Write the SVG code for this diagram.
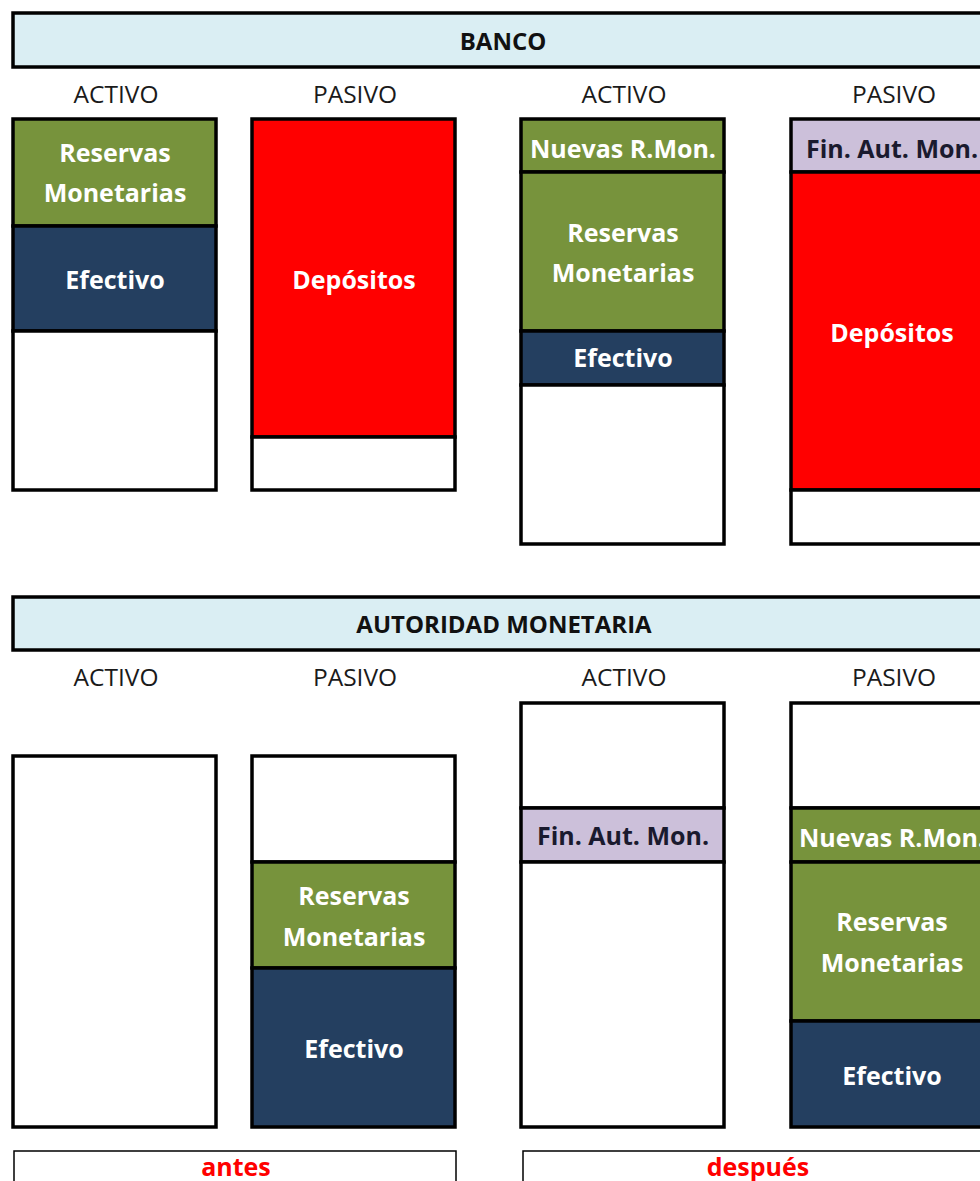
<svg xmlns="http://www.w3.org/2000/svg" width="980" height="1181" viewBox="0 0 980 1181">
<style>
text{font-family:"Open Sans","Liberation Sans",sans-serif;text-anchor:middle}
.hdr{fill:#DAEEF3;stroke:#000;stroke-width:3.5}
.ht{font-size:24px;font-weight:bold;fill:#111}
.col{font-size:24.5px;fill:#1a1a1a}
.g{fill:#77933C;stroke:#000;stroke-width:3.5}
.n{fill:#243F60;stroke:#000;stroke-width:3.5}
.r{fill:#FF0000;stroke:#000;stroke-width:3.5}
.l{fill:#CCC0DA;stroke:#000;stroke-width:3.5}
.w{fill:#FFFFFF;stroke:#000;stroke-width:3.5}
.wt{font-size:25px;font-weight:bold;fill:#FFFFFF}
.dt{font-size:25px;font-weight:bold;fill:#1a1a2e}
.lab{fill:#fff;stroke:#000;stroke-width:1.5}
.rt{font-size:25px;font-weight:bold;fill:#FF0000}
</style>
<rect width="980" height="1181" fill="#fff"/>

<g id="banco-header">
<rect class="hdr" x="13" y="13" width="990" height="54"/>
<text class="ht" x="503" y="50">BANCO</text>
</g>
<g id="banco-labels">
<text class="col" x="116" y="103">ACTIVO</text>
<text class="col" x="355" y="103">PASIVO</text>
<text class="col" x="624" y="103">ACTIVO</text>
<text class="col" x="894" y="103">PASIVO</text>
</g>

<g id="banco-activo-antes">
<rect class="g" x="13" y="119" width="203" height="107"/>
<rect class="n" x="13" y="226" width="203" height="105"/>
<rect class="w" x="13" y="331" width="203" height="159"/>
<text class="wt" x="115" y="162">Reservas</text>
<text class="wt" x="115" y="202">Monetarias</text>
<text class="wt" x="115" y="289">Efectivo</text>
</g>
<g id="banco-pasivo-antes">
<rect class="r" x="252" y="119" width="203" height="318"/>
<rect class="w" x="252" y="437" width="203" height="53"/>
<text class="wt" x="354" y="289">Depósitos</text>
</g>
<g id="banco-activo-despues">
<rect class="g" x="521" y="119" width="203" height="53"/>
<rect class="g" x="521" y="172" width="203" height="159"/>
<rect class="n" x="521" y="331" width="203" height="54"/>
<rect class="w" x="521" y="385" width="203" height="159"/>
<text class="wt" x="623" y="158">Nuevas R.Mon.</text>
<text class="wt" x="623" y="242">Reservas</text>
<text class="wt" x="623" y="282">Monetarias</text>
<text class="wt" x="623" y="367">Efectivo</text>
</g>
<g id="banco-pasivo-despues">
<rect class="l" x="791" y="119" width="203" height="53"/>
<rect class="r" x="791" y="172" width="203" height="318"/>
<rect class="w" x="791" y="490" width="203" height="54"/>
<text class="dt" x="892" y="158">Fin. Aut. Mon.</text>
<text class="wt" x="892" y="342">Depósitos</text>
</g>

<g id="am-header">
<rect class="hdr" x="13" y="597" width="990" height="53"/>
<text class="ht" x="504" y="633">AUTORIDAD MONETARIA</text>
</g>
<g id="am-labels">
<text class="col" x="116" y="686">ACTIVO</text>
<text class="col" x="355" y="686">PASIVO</text>
<text class="col" x="624" y="686">ACTIVO</text>
<text class="col" x="894" y="686">PASIVO</text>
</g>

<g id="am-activo-antes">
<rect class="w" x="13" y="756" width="203" height="371"/>
</g>
<g id="am-pasivo-antes">
<rect class="w" x="252" y="756" width="203" height="106"/>
<rect class="g" x="252" y="862" width="203" height="106"/>
<rect class="n" x="252" y="968" width="203" height="159"/>
<text class="wt" x="354" y="905">Reservas</text>
<text class="wt" x="354" y="946">Monetarias</text>
<text class="wt" x="354" y="1058">Efectivo</text>
</g>
<g id="am-activo-despues">
<rect class="w" x="521" y="703" width="203" height="105"/>
<rect class="l" x="521" y="808" width="203" height="54"/>
<rect class="w" x="521" y="862" width="203" height="265"/>
<text class="dt" x="623" y="845">Fin. Aut. Mon.</text>
</g>
<g id="am-pasivo-despues">
<rect class="w" x="791" y="703" width="203" height="105"/>
<rect class="g" x="791" y="808" width="203" height="54"/>
<rect class="g" x="791" y="862" width="203" height="159"/>
<rect class="n" x="791" y="1021" width="203" height="106"/>
<text class="wt" x="892" y="847">Nuevas R.Mon.</text>
<text class="wt" x="892" y="931">Reservas</text>
<text class="wt" x="892" y="972">Monetarias</text>
<text class="wt" x="892" y="1085">Efectivo</text>
</g>

<g id="label-antes">
<rect class="lab" x="14" y="1151" width="442" height="50"/>
<text class="rt" x="236" y="1176">antes</text>
</g>
<g id="label-despues">
<rect class="lab" x="523" y="1151" width="480" height="50"/>
<text class="rt" x="758" y="1176">después</text>
</g>
<g id="connectors"/>
</svg>
